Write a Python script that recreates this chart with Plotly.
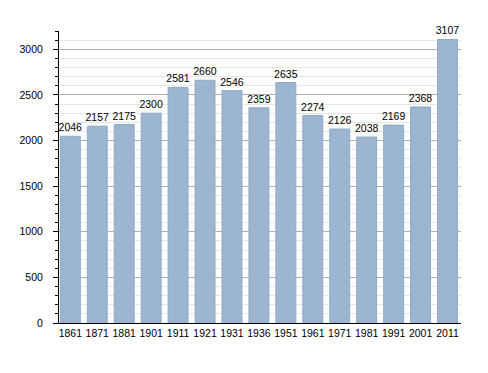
import plotly.graph_objects as go

years = ["1861", "1871", "1881", "1901", "1911", "1921", "1931", "1936", "1951", "1961", "1971", "1981", "1991", "2001", "2011"]
population = [2046, 2157, 2175, 2300, 2581, 2660, 2546, 2359, 2635, 2274, 2126, 2038, 2169, 2368, 3107]

fig = go.Figure(go.Bar(
    x=years, y=population,
    text=[str(v) for v in population], textposition="outside",
    constraintext="none",
    textfont=dict(size=10.5, color="#000000", family="Liberation Sans, Arial"),
    cliponaxis=False,
    marker=dict(color="#9cb5d0", line=dict(color="#90a9c5", width=1)),
))
fig.update_layout(
    width=488, height=373,
    margin=dict(l=42, r=35, t=23, b=58),
    paper_bgcolor="white", plot_bgcolor="white",
    bargap=0.26, showlegend=False,
    font=dict(family="Liberation Sans, Arial", size=10.5, color="#000000"),
)
fig.update_xaxes(
    type="category", range=[-0.42, 14.5],
    showline=True, linecolor="#000000", linewidth=1,
    ticks="", showgrid=False, tickfont=dict(size=10.5),
)
fig.update_yaxes(
    range=[0, 3200], tickmode="linear", dtick=500, tick0=0,
    showline=True, linecolor="#000000", linewidth=1,
    ticks="outside", ticklen=5, tickcolor="#000000",
    gridcolor="#b0b0b0", gridwidth=1, zeroline=False,
    minor=dict(dtick=100, showgrid=True, gridcolor="#e6e6e6", ticks="outside", ticklen=3, tickcolor="#000000"),
    tickfont=dict(size=10.5), ticklabelstandoff=8,
)
fig.write_html("out.html")
